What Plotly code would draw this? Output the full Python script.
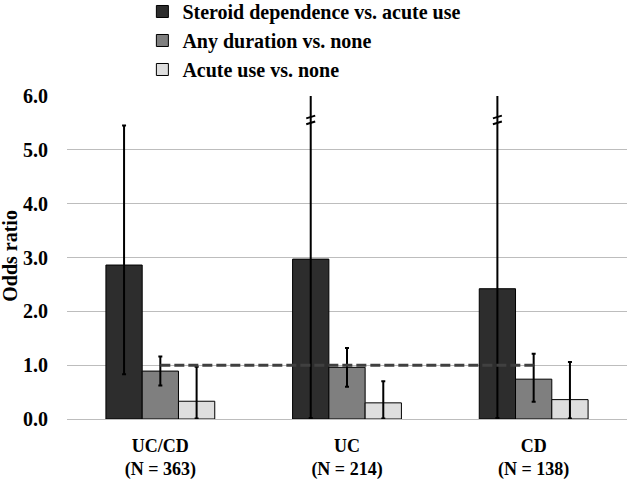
import plotly.graph_objects as go

# ---- data ----
groups = ["UC/CD", "UC", "CD"]
group_n = [363, 214, 138]
series_names = ["Steroid dependence vs. acute use", "Any duration vs. none", "Acute use vs. none"]

dep_or = [2.86, 2.97, 2.42]
dep_lo = [0.83, 0.02, 0.02]
dep_hi = [5.45, 8.0, 8.0]      # UC and CD upper limits are off-scale (broken bars)

any_or = [0.89, 0.96, 0.74]
any_lo = [0.62, 0.60, 0.32]
any_hi = [1.16, 1.32, 1.21]

acute_or = [0.33, 0.30, 0.36]
acute_lo = [0.01, 0.01, 0.01]
acute_hi = [0.97, 0.70, 1.06]

reference_or = 1.0
y_ticks = [0, 1, 2, 3, 4, 5, 6]
y_tick_text = ["0.0", "1.0", "2.0", "3.0", "4.0", "5.0", "6.0"]
y_title = "Odds ratio"
broken_groups = [1, 2]

colors = ["#2d2d2d", "#7f7f7f", "#dedede"]
FONT = "Liberation Serif"

labels = [f"{g}<br>(N = {n})" for g, n in zip(groups, group_n)]
idx = list(range(len(groups)))

fig = go.Figure()
series = [(dep_or, dep_lo, dep_hi), (any_or, any_lo, any_hi), (acute_or, acute_lo, acute_hi)]
for name, (v, lo, hi), c in zip(series_names, series, colors):
    fig.add_trace(go.Bar(
        x=idx, y=v, name=name,
        marker=dict(color=c, line=dict(color="#000000", width=1)),
        error_y=dict(type="data", symmetric=False,
                     array=[h - a for h, a in zip(hi, v)],
                     arrayminus=[a - l for a, l in zip(v, lo)],
                     color="#000000", thickness=2, width=2),
        cliponaxis=True,
    ))

# reference line at OR = 1
fig.add_trace(go.Scatter(
    x=idx, y=[reference_or] * len(idx), mode="lines",
    line=dict(color="#404040", width=3, dash="10px,4px"),
    showlegend=False, hoverinfo="skip",
))

bargap = 0.417
bw = (1 - bargap) / 3
# break marks on the off-scale error bars
for g in broken_groups:
    xc = g - bw
    for yb in (5.50, 5.61):
        fig.add_shape(type="line", xref="x", yref="y",
                      x0=xc - 0.024, x1=xc + 0.024, y0=yb - 0.025, y1=yb + 0.025,
                      line=dict(color="#000000", width=2))

fig.add_annotation(text=y_title, xref="paper", yref="paper", x=-0.102, y=0.505,
                   textangle=-90, showarrow=False, xanchor="center", yanchor="middle",
                   font=dict(family=FONT, size=20, weight="bold"))

fig.update_layout(
    width=630, height=479,
    margin=dict(l=67, r=3, t=96, b=60, autoexpand=False),
    paper_bgcolor="white", plot_bgcolor="white",
    barmode="group", bargap=bargap, bargroupgap=0,
    font=dict(family=FONT, size=18, color="#000000", weight="bold"),
    legend=dict(x=0.1346, y=1.322, xanchor="left", yanchor="top",
                font=dict(family=FONT, size=20, weight="bold"),
                tracegroupgap=0, bgcolor="rgba(0,0,0,0)"),
    showlegend=True,
)
fig.update_xaxes(
    tickmode="array", tickvals=idx, ticktext=labels,
    range=[-0.5, 2.5], showgrid=False, zeroline=False, showline=False,
    ticks="outside", ticklen=10, tickcolor="rgba(0,0,0,0)",
    tickfont=dict(family=FONT, size=18, weight="bold"),
)
fig.update_yaxes(
    range=[0, 6], tickmode="array", tickvals=y_ticks, ticktext=y_tick_text,
    showgrid=True, gridcolor="#bdbdbd", gridwidth=1,
    zeroline=True, zerolinecolor="#bdbdbd", zerolinewidth=1,
    showline=False, ticks="outside", ticklen=14, tickcolor="rgba(0,0,0,0)",
    tickfont=dict(family=FONT, size=20, weight="bold"),
)

fig.write_html("out.html", config={"displayModeBar": False},
               post_script="document.body.style.margin='0';")
